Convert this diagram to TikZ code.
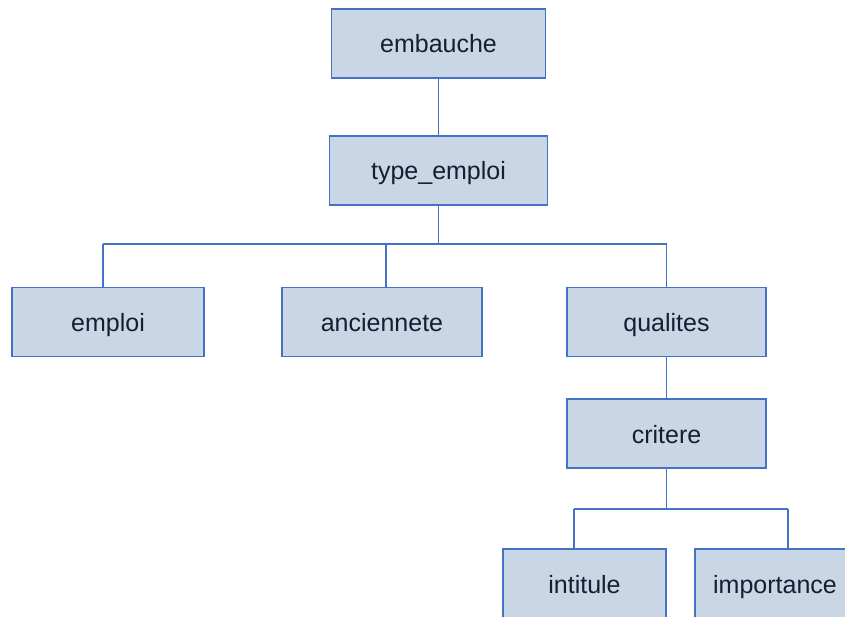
\documentclass[tikz,border=0pt]{standalone}
\usepackage{fontspec}
\setmainfont{Liberation Sans}
\definecolor{boxfill}{RGB}{200,214,229}
\definecolor{boxline}{RGB}{68,114,196}
\definecolor{boxtext}{RGB}{22,30,50}
\tikzset{
  entity/.style={draw=boxline, fill=boxfill, line width=1.2pt, text=boxtext,
    font=\fontsize{25}{30}\selectfont, minimum height=69pt, inner sep=0pt,
    text height=19pt, text depth=0pt},
  link/.style={draw=boxline, line width=1.1pt}
}
\begin{document}
\begin{tikzpicture}[x=1pt, y=-1pt]
\clip (0,0) rectangle (845,617);
\fill[white] (0,0) rectangle (845,617);
% boxes
\node[entity, minimum width=214pt] (embauche) at (438.5, 43.5){embauche};
\node[entity, minimum width=218pt] (typeemploi) at (438.5, 170.5){type\_emploi};
\node[entity, minimum width=192pt] (emploi) at (108, 322){emploi};
\node[entity, minimum width=200pt] (anciennete) at (382, 322){anciennete};
\node[entity, minimum width=199pt] (qualites) at (666.5, 322){qualites};
\node[entity, minimum width=199pt] (critere) at (666.5, 433.5){critere};
\node[entity, minimum width=163pt] (intitule) at (584.5, 583.5){intitule};
\node[entity, minimum width=160pt] (importance) at (775, 583.5){importance};
% junctions
\coordinate (bar) at (438.5, 244);
\coordinate (b1) at (103, 244);
\coordinate (b2) at (386, 244);
\coordinate (b3) at (666.5, 244);
\coordinate (c1) at (574, 509);
\coordinate (c2) at (788, 509);
% connectors
\draw[link] (embauche) -- (typeemploi);
\draw[link] (typeemploi.south) -- (bar);
\draw[link] (b1) -- (b3);
\draw[link] (b1) -- (b1 |- emploi.north);
\draw[link] (b2) -- (b2 |- anciennete.north);
\draw[link] (b3) -- (qualites.north);
\draw[link] (qualites) -- (critere);
\draw[link] (critere.south) -- (critere.south |- c1);
\draw[link] (c1) -- (c2);
\draw[link] (c1) -- (c1 |- intitule.north);
\draw[link] (c2) -- (c2 |- importance.north);
\end{tikzpicture}
\end{document}
